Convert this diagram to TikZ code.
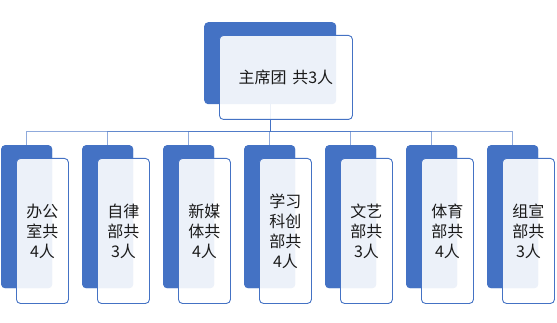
\documentclass[tikz,border=0pt]{standalone}
\usepackage{fontspec}
\newfontfamily\cjk{Noto Sans CJK SC}
\definecolor{accent}{HTML}{4472C4}
\definecolor{txt}{HTML}{1A1A1A}
\begin{document}
\begin{tikzpicture}[x=1pt,y=-1pt,
  backbox/.style={fill=accent,draw=none,rounded corners=4pt,anchor=north west,inner sep=0pt},
  frontbox/.style={fill=white,fill opacity=0.9,text opacity=1,draw=accent,line width=0.9pt,rounded corners=4pt,anchor=north west,inner sep=0pt,align=center,text=txt,font=\cjk\fontsize{16}{20}\selectfont},
  conn/.style={draw=accent,draw opacity=0.6,line width=1pt}]
\useasboundingbox (0,0) rectangle (557,323);
% top
\node[backbox,minimum width=132pt,minimum height=82pt] (topb) at (204,22) {};
% children back boxes
\foreach \i in {0,...,6}{
  \node[backbox,minimum width=51pt,minimum height=143pt] (cb\i) at ({1+81*\i},145) {};
}
% connectors (behind front boxes)
\foreach \i in {0,...,6}{
  \draw[conn] (topb.south) -- (topb.south |- 0,132) -| (cb\i.north);
}
% redraw back boxes over connector ends
\foreach \i in {0,...,6}{
  \node[backbox,minimum width=51pt,minimum height=143pt] at ({1+81*\i},145) {};
}
\node[frontbox,minimum width=133pt,minimum height=84pt] (topf) at (219,35) {主席团\hspace{0.35em}共3人};
\node[frontbox,minimum width=52pt,minimum height=145pt] (cf0) at (16,158) {办公\\室共\\4人};
\node[frontbox,minimum width=52pt,minimum height=145pt] (cf1) at (97,158) {自律\\部共\\3人};
\node[frontbox,minimum width=52pt,minimum height=145pt] (cf2) at (178,158) {新媒\\体共\\4人};
\node[frontbox,minimum width=52pt,minimum height=145pt] (cf3) at (259,158) {学习\\科创\\部共\\4人};
\node[frontbox,minimum width=52pt,minimum height=145pt] (cf4) at (340,158) {文艺\\部共\\3人};
\node[frontbox,minimum width=52pt,minimum height=145pt] (cf5) at (421,158) {体育\\部共\\4人};
\node[frontbox,minimum width=52pt,minimum height=145pt] (cf6) at (502,158) {组宣\\部共\\3人};
\end{tikzpicture}
\end{document}
